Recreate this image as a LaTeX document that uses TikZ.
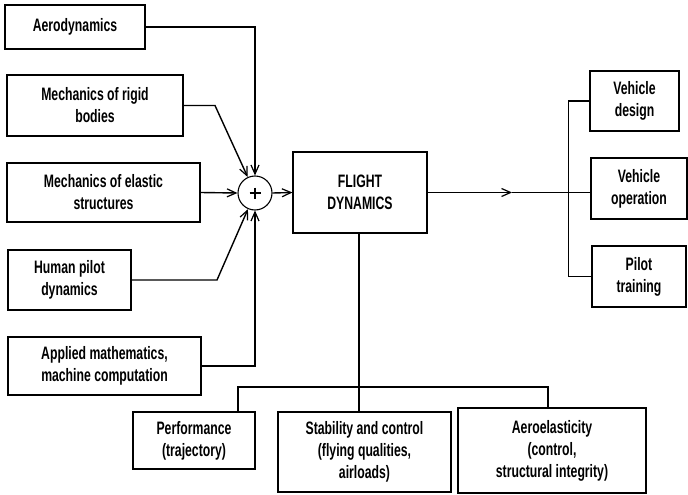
\documentclass[tikz,border=0pt]{standalone}
\usepackage{fontspec}
\setmainfont{Liberation Sans}[FakeStretch=0.68]
\usetikzlibrary{arrows.meta}
\begin{document}
\begin{tikzpicture}[x=1pt,y=-1pt,
  box/.style={draw,line width=1.1pt,rectangle,inner sep=0pt,align=center,
    font=\fontsize{18}{22}\selectfont\bfseries},
  conn/.style={line width=1.4pt},
  arr/.style={conn,-{Straight Barb[length=9pt,width=8pt,line width=1.2pt]}}]
\useasboundingbox (0,0) rectangle (688,495);
\node[box,minimum width=140,minimum height=44] (aero) at (75,27) {Aerodynamics};
\node[box,minimum width=176,minimum height=61] (rigid) at (95,105.5) {Mechanics of rigid\\bodies};
\node[box,minimum width=193,minimum height=59] (elastic) at (103.5,192.5) {Mechanics of elastic\\structures};
\node[box,minimum width=123,minimum height=60] (human) at (69.5,280) {Human pilot\\dynamics};
\node[box,minimum width=193,minimum height=58] (applied) at (104.5,366) {Applied mathematics,\\machine computation};
\node[draw,circle,line width=1.1pt,minimum size=34,inner sep=0pt] (sum) at (255,193) {};
\draw[line width=2pt] (sum.center) ++(-5.5,0) -- ++(11,0) (sum.center) ++(0,-5.5) -- ++(0,11);
\node[box,minimum width=134,minimum height=81] (fd) at (360,192.5) {FLIGHT\\DYNAMICS};
\node[box,minimum width=89,minimum height=60] (design) at (634.5,101) {Vehicle\\design};
\node[box,minimum width=96,minimum height=61] (oper) at (639,188.5) {Vehicle\\operation};
\node[box,minimum width=94,minimum height=61] (pilot) at (639,276.5) {Pilot\\training};
\node[box,minimum width=122,minimum height=57] (perf) at (194,440.5) {Performance\\(trajectory)};
\node[box,minimum width=173,minimum height=80] (stab) at (364.5,452) {Stability and control\\(flying qualities,\\airloads)};
\node[box,minimum width=188,minimum height=85] (ael) at (552,450.5) {Aeroelasticity\\(control,\\structural integrity)};
\coordinate (rk) at (215,105.5);
\coordinate (hk) at (217,280);
\coordinate (mid) at (512,192.5);
\coordinate (bL) at (238,387);
\coordinate (bR) at (548,387);
% inputs
\draw[arr] (aero.east) -| (sum.north);
\draw[arr] (rigid.east) -- (rk) -- (sum);
\draw[arr] (elastic.east) -- (sum.west);
\draw[arr] (human.east) -- (hk) -- (sum);
\draw[arr] (applied.east) -| (sum.south);
\draw[arr] (sum.east) -- (fd.west);
% outputs
\draw[arr] (fd.east) -- (mid);
\draw[conn] (mid) -- (mid -| oper.west);
\draw[conn] (design.west) -- ++(-21,0) |- (pilot.west);
% bottom
\draw[conn] (fd.south) ++(-1,0) -- ++(0,179.5);
\draw[conn] (bL |- perf.north) -- (bL) -- (bR) -- (bR |- ael.north);
\end{tikzpicture}
\end{document}
